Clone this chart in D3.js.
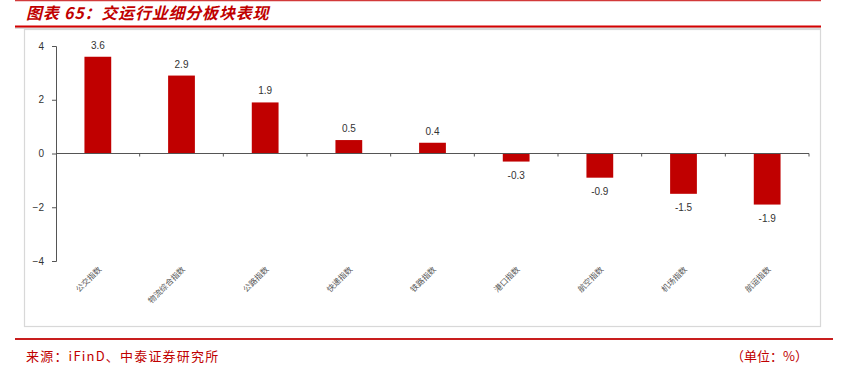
<!DOCTYPE html>
<html>
<head>
<meta charset="utf-8">
<script src="https://cdn.jsdelivr.net/npm/d3@7"></script>
<style>
  body { margin: 0; background: #fff; }
  svg { display: block; }
</style>
</head>
<body>
<div id="chart"></div>
<script>
// data
var categories = ["公交指数", "物流综合指数", "公路指数", "快递指数", "铁路指数", "港口指数", "航空指数", "机场指数", "航运指数"];
var values = [3.6, 2.9, 1.9, 0.5, 0.4, -0.3, -0.9, -1.5, -1.9];
var yTicks = [-4, -2, 0, 2, 4];

var W = 850, H = 370;
var red = "#c00000";
var cjk = "'Noto Sans CJK SC', 'Noto Sans', sans-serif";

var svg = d3.select("#chart").append("svg")
  .attr("width", W)
  .attr("height", H);

// header and footer rules
svg.append("line").attr("x1", 15).attr("x2", 821).attr("y1", 0.5).attr("y2", 0.5)
  .style("stroke", "#d23a3a").style("stroke-width", 1.5);
svg.append("line").attr("x1", 15).attr("x2", 821).attr("y1", 28).attr("y2", 28)
  .style("stroke", "#cfcfcf").style("stroke-width", 1.5);
svg.append("line").attr("x1", 15).attr("x2", 821).attr("y1", 26.5).attr("y2", 26.5)
  .style("stroke", "#d40000").style("stroke-width", 1.8);

svg.append("text")
  .attr("x", 26).attr("y", 19)
  .style("font-family", cjk)
  .style("font-size", "16px")
  .style("letter-spacing", "0.8px")
  .style("font-weight", "bold")
  .style("font-style", "italic")
  .style("fill", red)
  .text("图表 65：交运行业细分板块表现");

// chart frame
svg.append("rect")
  .attr("x", 24.5).attr("y", 29.5).attr("width", 796).attr("height", 297)
  .style("fill", "none").style("stroke", "#d8d8d8").style("stroke-width", 1.2);

svg.append("line").attr("x1", 15).attr("x2", 833).attr("y1", 339).attr("y2", 339)
  .style("stroke", "#c81e1e").style("stroke-width", 1.8);

svg.append("text")
  .attr("x", 26).attr("y", 361)
  .style("font-family", cjk).style("font-size", "13px").style("letter-spacing", "1.2px")
  .style("fill", red)
  .text("来源：iFinD、中泰证券研究所");
svg.append("text")
  .attr("x", 808).attr("y", 361)
  .attr("text-anchor", "end")
  .style("font-family", cjk).style("font-size", "13px").style("fill", red)
  .text("（单位：%）");

// scales
var left = 56, right = 809;
var x = d3.scaleBand().domain(categories).range([left, right]).paddingInner(0.68).paddingOuter(0.34);
var xb = d3.scaleBand().domain(categories).range([left, right]);
var y = d3.scaleLinear().domain([-4, 4]).range([261, 46]);

var g = svg.append("g");

// y axis
var yAxis = g.append("g")
  .attr("transform", "translate(" + left + ",0)")
  .call(d3.axisLeft(y).tickValues(yTicks).tickSize(4).tickPadding(8)
    .tickFormat(function (d) { return d < 0 ? "\u2212" + Math.abs(d) : d; }));
yAxis.select(".domain").style("stroke", "#555");
yAxis.selectAll(".tick line").style("stroke", "#555");
yAxis.selectAll("text")
  .style("font-family", "'Liberation Sans', Arial, sans-serif")
  .style("font-size", "10px")
  .style("fill", "#333");

// bars
g.selectAll("rect.bar")
  .data(values)
  .enter().append("rect")
  .attr("class", "bar")
  .attr("x", function (d, i) { return x(categories[i]); })
  .attr("width", x.bandwidth())
  .attr("y", function (d) { return y(Math.max(0, d)); })
  .attr("height", function (d) { return Math.abs(y(d) - y(0)); })
  .style("fill", red);

// value labels
g.selectAll("text.val")
  .data(values)
  .enter().append("text")
  .attr("class", "val")
  .attr("x", function (d, i) { return x(categories[i]) + x.bandwidth() / 2; })
  .attr("y", function (d) { return d >= 0 ? y(d) - 8 : y(d) + 17; })
  .attr("text-anchor", "middle")
  .style("font-family", "'Liberation Sans', Arial, sans-serif")
  .style("font-size", "10px")
  .style("fill", "#333")
  .text(function (d) { return d.toFixed(1); });

// category axis along zero
var xAxis = g.append("g")
  .attr("transform", "translate(0," + y(0) + ")");
xAxis.append("line")
  .attr("x1", left).attr("x2", right)
  .style("stroke", "#555").style("stroke-width", 1.2);
xAxis.selectAll("line.tk")
  .data(categories)
  .enter().append("line")
  .attr("class", "tk")
  .attr("x1", function (d) { return xb(d) + xb.bandwidth(); })
  .attr("x2", function (d) { return xb(d) + xb.bandwidth(); })
  .attr("y1", 0).attr("y2", 3)
  .style("stroke", "#555");

// rotated category labels
g.selectAll("text.cat")
  .data(categories)
  .enter().append("text")
  .attr("class", "cat")
  .attr("text-anchor", "end")
  .attr("transform", function (d) {
    return "translate(" + (x(d) + x.bandwidth() / 2 + 4) + ",270) rotate(-45)";
  })
  .style("font-family", "'Noto Sans CJK SC', sans-serif")
  .style("font-size", "8px")
  .style("fill", "#555")
  .text(function (d) { return d; });
</script>
</body>
</html>
